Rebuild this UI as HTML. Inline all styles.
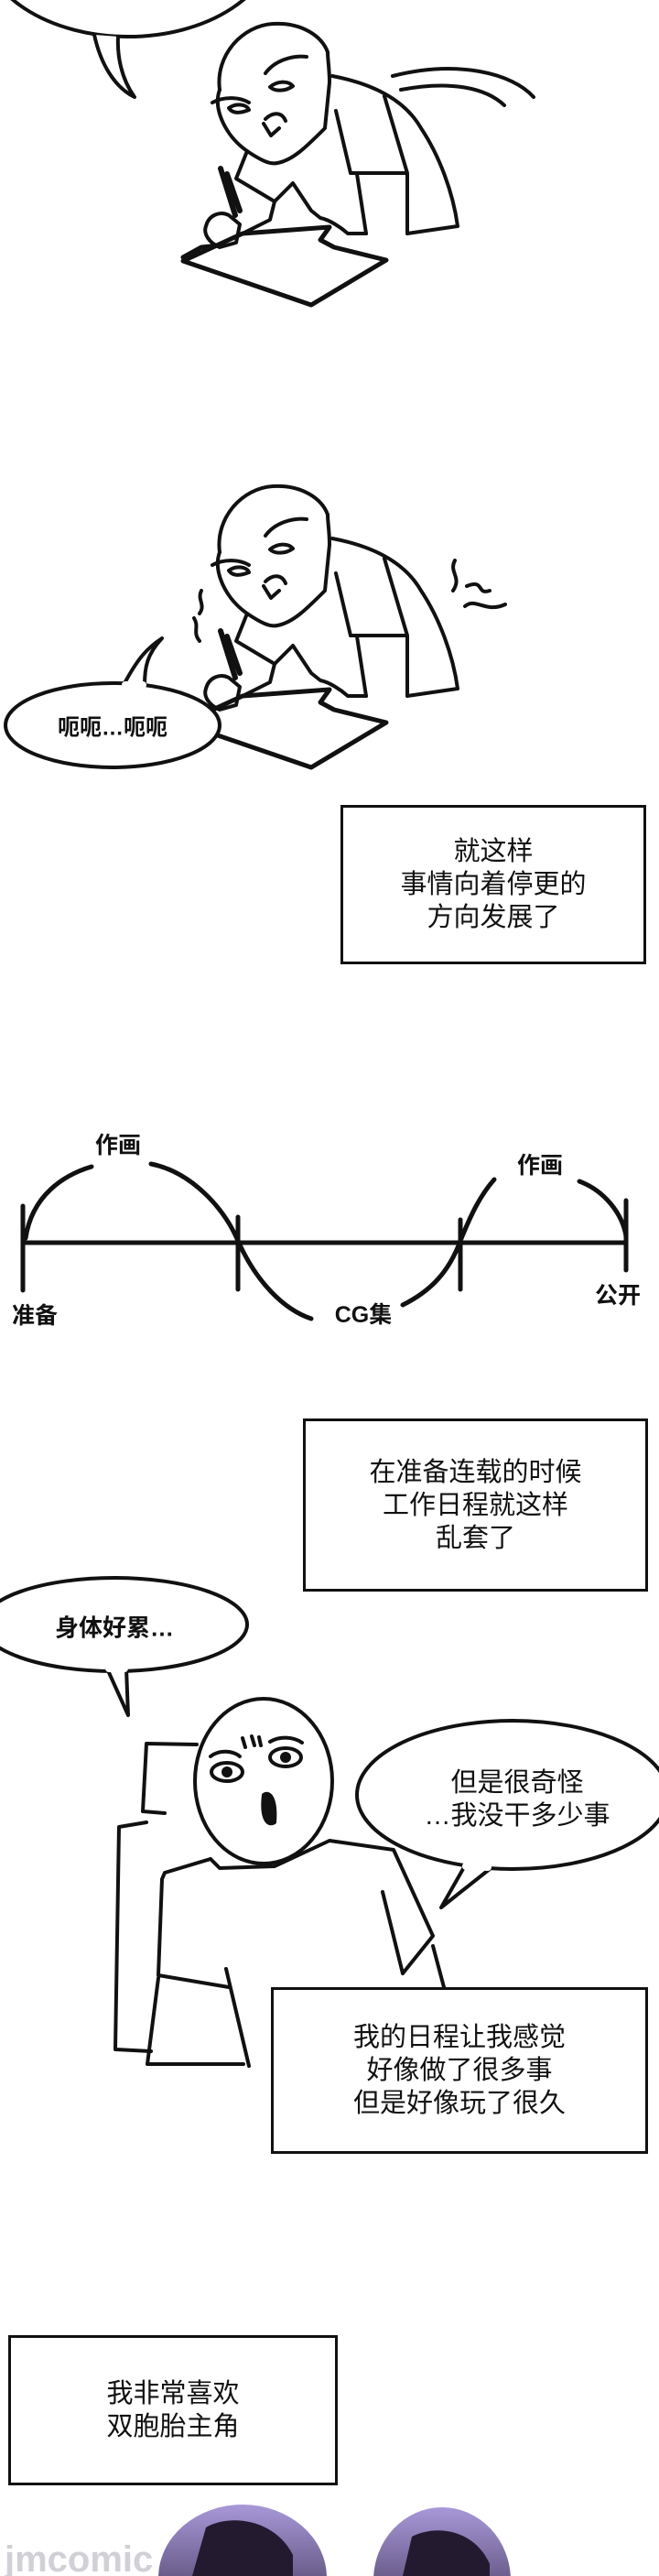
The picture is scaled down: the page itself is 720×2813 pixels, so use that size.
<!DOCTYPE html>
<html><head><meta charset="utf-8"><style>
html,body{margin:0;padding:0;background:#fff}
body{width:720px;height:2813px;position:relative;overflow:hidden}
svg{position:absolute;left:0;top:0}
.box{position:absolute;border:3px solid #111;box-sizing:border-box;display:flex;align-items:center;justify-content:center;text-align:center;font-family:"Liberation Sans","Noto Sans CJK SC",sans-serif;font-size:29px;line-height:36px;color:#111}
.t{position:absolute;font-family:"Liberation Sans","Noto Sans CJK SC",sans-serif;color:#111;white-space:nowrap;transform:translate(-50%,-50%)}
</style></head><body>
<svg width="720" height="2813" viewBox="0 0 720 2813" fill="none" stroke="#111" stroke-width="4" stroke-linecap="round" stroke-linejoin="round">
<defs>
<g id="fig">
<path d="M240,98 C235,60 265,28 298,26 C330,24 352,40 358,57"/>
<path d="M240,98 C232,120 248,150 270,165 C285,175 295,180 303,178 C320,175 335,160 355,140 L360,90 C360,75 358,65 358,57"/>
<path d="M232,112 C245,105 262,106 272,112 M290,80 C300,66 320,60 335,62"/>
<path d="M250,118 C258,112 270,114 272,120 C262,124 254,124 250,118 Z M295,95 C303,88 315,88 320,94 C312,100 300,100 295,95 Z"/>
<path d="M290,130 C298,122 308,122 312,132 M288,135 L296,148 L305,140"/>
<path d="M363,83 C400,90 440,105 460,140 C480,170 495,210 500,247 L445,255"/>
<path d="M367,121 L383,189 L445,189 L420,105 M390,190 L400,255 M445,190 L445,255"/>
<path d="M270,165 L258,195 L300,220 L320,200 L340,230 L350,238 C360,240 372,248 380,255 L400,255"/>
<path d="M300,220 L295,240 L265,255"/>
<path d="M241,184 L257,235 M248,190 L262,230" stroke-width="6"/>
<path d="M225,247 C228,235 240,230 250,235 L262,245 L258,265 L240,270 C228,265 222,255 225,247 Z"/>
<path d="M200,281 L220,270 L240,268 M265,255 L360,248 L350,262 L365,270 L422,284 L340,333 L200,285 Z" stroke-width="5"/>
</g>
</defs>
<!-- top bubble -->
<ellipse cx="140" cy="-65" rx="160" ry="105"/>
<path d="M103,38 C110,70 125,95 147,106 C132,85 128,60 129,40" fill="#fff"/>
<path d="M106,30 L128,30" stroke="#fff" stroke-width="10"/>
<use href="#fig"/>
<path d="M429,83 C500,65 560,80 583,106 M438,98 C490,88 530,95 551,115"/>
<use href="#fig" transform="translate(0,505)"/>
<path d="M497,612 C490,625 505,630 495,645 M510,640 C530,632 520,650 535,645 M508,662 C520,652 530,670 552,660 M220,645 C215,655 225,660 218,670 M212,675 C218,685 210,690 218,700"/>
<ellipse cx="123" cy="792" rx="117" ry="46" fill="#fff"/>
<path d="M135,748 C150,720 160,708 177,697 C160,715 158,730 158,748" fill="#fff"/>
<path d="M137,748 L156,748" stroke="#fff" stroke-width="8"/>
<!-- timeline -->
<g stroke-width="5">
<path d="M25,1357 L684,1357"/>
<path d="M25,1317 L25,1409 M260,1329 L260,1408 M503,1332 L503,1408 M684,1311 L684,1387"/>
<path d="M28,1352 C35,1305 70,1283 100,1274"/>
<path d="M165,1271 C210,1280 245,1320 260,1355 C280,1400 310,1430 340,1440"/>
<path d="M440,1425 C470,1410 490,1390 503,1355 C515,1325 525,1305 540,1288"/>
<path d="M633,1290 C660,1300 680,1325 684,1350"/>
</g>
<!-- face scene -->
<ellipse cx="264" cy="1776" rx="0" ry="0"/>
<ellipse cx="125" cy="1774" rx="145" ry="51" fill="#fff"/>
<path d="M117,1822 L140,1873 L138,1822" fill="#fff"/>
<path d="M119,1822 L136,1822" stroke="#fff" stroke-width="8"/>
<path d="M215,1905 L160,1904 L156,1978 L180,1980 M160,1990 L130,1995 L126,2238 L165,2240"/>
<ellipse cx="288" cy="1945" rx="75" ry="90" fill="#fff"/>
<ellipse cx="248" cy="1935" rx="17" ry="10"/><circle cx="248" cy="1935" r="4" fill="#111"/>
<ellipse cx="312" cy="1919" rx="17" ry="10"/><circle cx="312" cy="1919" r="4" fill="#111"/>
<path d="M230,1918 C240,1910 255,1912 262,1918 M295,1902 C305,1896 320,1896 330,1903 M265,1898 L268,1908 M275,1896 L278,1906 M283,1897 L285,1906"/>
<path d="M288,1960 C295,1955 302,1965 300,1990 C292,1995 285,1985 288,1960 Z" fill="#111"/>
<path d="M230,2030 L240,2040 L300,2038 L360,2010 L430,2020 L473,2114 L440,2155 M418,2066 L440,2155 M473,2125 L485,2170"/>
<path d="M177,2052 L180,2045 L230,2030 M177,2052 L173,2157 L250,2170 M173,2160 L161,2254 L266,2254 M247,2150 L272,2256"/>
<ellipse cx="560" cy="1960" rx="170" ry="81" fill="#fff"/>
<path d="M507,2039 L482,2083 L535,2041" fill="#fff"/>
<path d="M509,2038 L533,2039" stroke="#fff" stroke-width="8"/>
</svg>
<div class="t" style="left:123px;top:792px;font-size:24px;font-weight:bold">呃呃…呃呃</div>
<div class="box" style="left:372px;top:879px;width:334px;height:174px">就这样<br>事情向着停更的<br>方向发展了</div>
<div class="t" style="left:129px;top:1249px;font-size:25px;font-weight:bold">作画</div>
<div class="t" style="left:590px;top:1271px;font-size:25px;font-weight:bold">作画</div>
<div class="t" style="left:38px;top:1435px;font-size:25px;font-weight:bold">准备</div>
<div class="t" style="left:397px;top:1434px;font-size:25px;font-weight:bold">CG集</div>
<div class="t" style="left:675px;top:1413px;font-size:25px;font-weight:bold">公开</div>
<div class="box" style="left:331px;top:1549px;width:377px;height:189px">在准备连载的时候<br>工作日程就这样<br>乱套了</div>
<div class="t" style="left:125px;top:1776px;font-size:26px;font-weight:bold">身体好累…</div>
<div class="t" style="left:565px;top:1965px;font-size:29px;line-height:36px;text-align:center">但是很奇怪<br>…我没干多少事</div>
<div class="box" style="left:296px;top:2170px;width:412px;height:182px">我的日程让我感觉<br>好像做了很多事<br>但是好像玩了很久</div>
<div class="box" style="left:9px;top:2550px;width:360px;height:164px">我非常喜欢<br>双胞胎主角</div>
<svg width="720" height="2813" viewBox="0 0 720 2813">
<defs><linearGradient id="h" x1="0" y1="0" x2="0" y2="1"><stop offset="0" stop-color="#a898d8"/><stop offset="1" stop-color="#2a1f3a"/></linearGradient></defs>
<ellipse cx="265" cy="2815" rx="92" ry="80" fill="url(#h)"/>
<ellipse cx="483" cy="2818" rx="75" ry="80" fill="url(#h)"/>
<path d="M225,2760 C250,2745 300,2750 320,2790 L320,2813 L210,2813 Z" fill="#241a30"/>
<path d="M450,2770 C480,2755 520,2765 535,2800 L535,2813 L440,2813 Z" fill="#241a30"/>
<text x="5" y="2808" font-family="Liberation Sans" font-weight="bold" font-size="40" fill="#c8c8d0" opacity="0.85">jmcomic</text>
</svg>
</body></html>
